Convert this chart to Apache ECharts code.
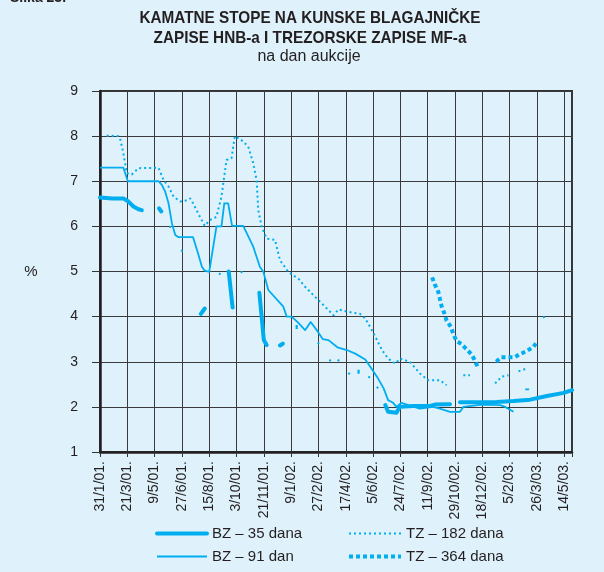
<!DOCTYPE html>
<html>
<head>
<meta charset="utf-8">
<script src="https://cdn.jsdelivr.net/npm/echarts@6/dist/echarts.min.js"></script>
<style>
html,body{margin:0;padding:0;background:#dff1fb;}
#c{width:604px;height:572px;}
</style>
</head>
<body>
<div id="c"></div>
<script>
// ---- data ----
const xTickLabels = ['31/1/01.','21/3/01.','9/5/01.','27/6/01.','15/8/01.','3/10/01.','21/11/01.','9/1/02.','27/2/02.','17/4/02.','5/6/02.','24/7/02.','11/9/02.','29/10/02.','18/12/02.','5/2/03.','26/3/03.','14/5/03.'];
const yTicks = [1,2,3,4,5,6,7,8,9];
const seriesNames = ['BZ – 35 dana','BZ – 91 dan','TZ – 182 dana','TZ – 364 dana'];

// null = gap in the line
const bz35 = [
  ['2001-01-31',6.64],['2001-02-22',6.62],['2001-03-14',6.62],['2001-03-23',6.55],['2001-04-01',6.44],['2001-04-10',6.38],['2001-04-16',6.36],
  null,
  ['2001-05-17',6.40],['2001-05-21',6.33],
  null,
  ['2001-07-31',4.06],['2001-08-07',4.18],
  null,
  ['2001-09-19',5.00],['2001-09-26',4.20],
  null,
  ['2001-11-13',4.53],['2001-11-21',3.48],['2001-11-26',3.37],
  null,
  ['2001-12-20',3.36],['2001-12-25',3.40],
  null,
  ['2002-06-27',2.04],['2002-07-02',1.89],['2002-07-17',1.87],['2002-07-23',2.00],['2002-08-16',2.02],['2002-09-15',2.02],['2002-09-24',2.05],['2002-10-21',2.06],
  null,
  ['2002-11-08',2.10],['2002-12-14',2.10],['2003-01-13',2.11],['2003-02-12',2.13],['2003-03-14',2.16],['2003-04-13',2.24],['2003-05-13',2.31],['2003-05-28',2.37]
];

const bz91 = [
  ['2001-01-31',7.30],['2001-03-14',7.30],['2001-03-22',7.00],['2001-05-16',7.00],['2001-05-22',6.92],['2001-05-28',6.77],['2001-06-03',6.51],
  ['2001-06-09',6.07],['2001-06-15',5.81],['2001-06-21',5.76],['2001-07-17',5.76],['2001-07-26',5.40],['2001-08-02',5.10],['2001-08-07',5.02],
  ['2001-08-15',4.99],['2001-08-28',6.00],['2001-09-06',6.00],['2001-09-11',6.51],['2001-09-18',6.51],['2001-09-25',6.01],['2001-10-15',6.01],
  ['2001-11-02',5.55],['2001-11-14',5.10],['2001-11-20',5.00],['2001-11-29',4.59],['2001-12-26',4.22],['2002-01-01',4.00],['2002-01-10',4.00],
  ['2002-01-22',3.86],['2002-02-03',3.70],['2002-02-13',3.88],['2002-02-24',3.70],['2002-03-07',3.50],['2002-03-17',3.48],['2002-04-02',3.32],
  ['2002-04-19',3.26],['2002-05-04',3.18],['2002-05-22',3.05],['2002-05-31',2.89],['2002-06-12',2.67],['2002-06-24',2.41],['2002-07-02',2.15],
  ['2002-07-11',2.09],['2002-07-17',2.00],['2002-07-26',2.09],['2002-08-07',2.04],['2002-08-28',1.96],['2002-09-21',2.00],['2002-10-03',1.96],
  ['2002-10-21',1.89],['2002-11-08',1.89],['2002-11-14',2.00],['2002-12-17',2.05],['2003-01-19',2.04],['2003-01-28',2.00],['2003-02-12',1.89],
  null,
  ['2003-03-05',2.39],['2003-03-12',2.39]
];

const tz182 = [
  ['2001-02-12',8.01],['2001-03-05',8.00],['2001-03-08',7.95],['2001-03-14',7.62],['2001-03-20',7.18],['2001-03-29',7.15],['2001-04-10',7.29],
  ['2001-05-16',7.30],['2001-05-25',7.03],['2001-06-03',6.88],['2001-06-12',6.66],['2001-06-24',6.55],['2001-07-03',6.57],['2001-07-12',6.62],
  ['2001-07-17',6.51],['2001-07-26',6.29],['2001-08-07',6.01],['2001-08-16',6.14],['2001-08-28',6.21],['2001-09-06',6.66],['2001-09-15',7.47],
  ['2001-09-24',7.51],['2001-09-30',8.00],['2001-10-12',7.91],['2001-10-24',7.77],['2001-11-02',7.40],['2001-11-08',7.03],['2001-11-11',6.36],
  ['2001-11-17',6.00],['2001-11-26',5.73],['2001-12-11',5.70],['2001-12-20',5.25],['2002-01-04',4.99],['2002-01-25',4.81],['2002-01-31',4.70],
  ['2002-02-24',4.40],['2002-03-11',4.22],['2002-03-26',4.03],['2002-04-04',4.16],['2002-04-19',4.11],['2002-05-13',4.06],['2002-05-22',3.96],
  ['2002-06-06',3.63],['2002-06-21',3.26],['2002-07-02',3.07],['2002-07-15',2.96],['2002-07-23',3.07],['2002-08-10',3.00],['2002-08-28',2.74],
  ['2002-09-12',2.59],['2002-10-03',2.59],['2002-10-15',2.48],
  null,
  ['2002-11-14',2.70],['2002-11-26',2.70],
  null,
  ['2003-01-10',2.52],['2003-01-22',2.67],['2003-02-03',2.70],
  null,
  ['2003-02-21',2.79],['2003-03-08',2.85],
  null,
  ['2003-04-06',3.98],['2003-04-12',4.02],
  null,
  ['2001-06-05',5.97],['2001-06-08',6.03],
  null,
  ['2001-06-26',5.44],['2001-06-29',5.50],
  null,
  ['2001-09-02',4.93],['2001-09-05',4.99],
  null,
  ['2001-10-11',4.97],['2001-10-14',5.03],
  null,
  ['2002-02-26',3.39],['2002-03-01',3.45],
  null,
  ['2002-03-19',3.01],['2002-03-22',3.07],
  null,
  ['2002-04-03',3.01],['2002-04-06',3.07],
  null,
  ['2002-04-22',2.72],['2002-04-25',2.78],
  null,
  ['2002-05-28',2.64],['2002-05-31',2.70],
  null,
  ['2002-06-12',2.41],['2002-06-15',2.47]
];

const tz364 = [
  ['2002-09-19',4.87],['2002-09-24',4.71],['2002-09-30',4.55],['2002-10-06',4.23],['2002-10-11',4.07],['2002-10-15',3.91],['2002-10-23',3.77],
  ['2002-10-27',3.61],['2002-11-02',3.46],['2002-11-11',3.39],['2002-11-29',3.16],['2002-12-05',3.02],['2002-12-11',2.85],
  null,
  ['2003-01-12',3.00],['2003-01-21',3.10],['2003-02-14',3.10],['2003-02-24',3.17],['2003-03-08',3.24],['2003-03-20',3.33],['2003-03-26',3.44],
  null,
  ['2002-01-17',3.77],['2002-01-21',3.77],
  null,
  ['2002-05-08',2.78],['2002-05-12',2.78]
];

// ---- helpers ----
const START = Date.UTC(2001, 0, 31);
const STEP = 49; // days between axis labels
function dayOf(s) {
  const p = s.split('-').map(Number);
  return Math.round((Date.UTC(p[0], p[1] - 1, p[2]) - START) / 86400000);
}
function toXY(arr) {
  return arr.map(p => p ? [dayOf(p[0]), p[1]] : [null, null]);
}

const LINE = '#00aeef';
const FONT = "'Liberation Sans', Arial, sans-serif";
const hideSym = {opacity: 0};

const chart = echarts.init(document.getElementById('c'), null, {renderer: 'canvas'});
chart.setOption({
  backgroundColor: '#dff1fb',
  animation: false,
  grid: {left: 100, right: 32, top: 91, bottom: 120, show: true, borderColor: '#333', borderWidth: 2, backgroundColor: 'transparent'},
  xAxis: {
    type: 'value', min: 0, max: 847, interval: STEP,
    axisLine: {show: true, onZero: false, lineStyle: {color: '#231f20', width: 2.5}},
    axisTick: {show: true, length: 5, lineStyle: {color: '#333'}},
    splitLine: {show: true, lineStyle: {color: '#3a3a3a', width: 1}},
    axisLabel: {
      rotate: 90, margin: 9, color: '#231f20', fontSize: 14, fontFamily: FONT,
      formatter: v => { const i = Math.round(v / STEP); return (v % STEP === 0 && i < xTickLabels.length) ? xTickLabels[i] : ''; }
    }
  },
  yAxis: {
    type: 'value', min: yTicks[0], max: yTicks[yTicks.length - 1], interval: 1,
    axisLine: {show: true, lineStyle: {color: '#231f20', width: 2.5}},
    axisTick: {show: true, length: 8, lineStyle: {color: '#333'}},
    splitLine: {show: true, lineStyle: {color: '#3a3a3a', width: 1}},
    axisLabel: {margin: 22, color: '#231f20', fontSize: 14, fontFamily: FONT}
  },
  legend: [
    {
      orient: 'vertical', left: 155, top: 526, padding: 0, itemWidth: 50, itemHeight: 14, itemGap: 8,
      textStyle: {color: '#231f20', fontSize: 15, fontFamily: FONT},
      data: [
        {name: seriesNames[0], lineStyle: {width: 4}, itemStyle: hideSym},
        {name: seriesNames[1], lineStyle: {width: 2}, itemStyle: hideSym}
      ]
    },
    {
      orient: 'vertical', left: 347, top: 526, padding: 0, itemWidth: 52, itemHeight: 14, itemGap: 8,
      textStyle: {color: '#231f20', fontSize: 15, fontFamily: FONT},
      data: [
        {name: seriesNames[2], lineStyle: {width: 2}, itemStyle: hideSym},
        {name: seriesNames[3], lineStyle: {width: 4}, itemStyle: hideSym}
      ]
    }
  ],
  graphic: [
    {type: 'text', left: 10, top: -9, style: {text: 'Slika 23.', font: "bold 14px " + FONT, fill: '#231f20'}},
    {type: 'text', x: 310, y: 18, scaleX: 0.9, style: {text: 'KAMATNE STOPE NA KUNSKE BLAGAJNIČKE', textAlign: 'center', textVerticalAlign: 'middle', font: "bold 17px " + FONT, fill: '#231f20'}},
    {type: 'text', x: 310, y: 38, scaleX: 0.9, style: {text: 'ZAPISE HNB-a I TREZORSKE ZAPISE MF-a', textAlign: 'center', textVerticalAlign: 'middle', font: "bold 17px " + FONT, fill: '#231f20'}},
    {type: 'text', x: 309, y: 57, style: {text: 'na dan aukcije', textAlign: 'center', textVerticalAlign: 'middle', font: "16px " + FONT, fill: '#231f20'}},
    {type: 'text', x: 31, y: 272, style: {text: '%', textAlign: 'center', textVerticalAlign: 'middle', font: "15px " + FONT, fill: '#231f20'}}
  ],
  series: [
    {name: seriesNames[0], type: 'line', data: toXY(bz35), symbol: 'none', showSymbol: false, connectNulls: false, color: LINE, lineStyle: {color: LINE, width: 4, cap: 'round', join: 'round'}, z: 5},
    {name: seriesNames[1], type: 'line', data: toXY(bz91), symbol: 'none', showSymbol: false, connectNulls: false, color: LINE, lineStyle: {color: LINE, width: 1.8, join: 'round'}, z: 4},
    {name: seriesNames[2], type: 'line', data: toXY(tz182), symbol: 'none', showSymbol: false, connectNulls: false, color: LINE, lineStyle: {color: LINE, width: 2, type: [2, 3]}, z: 3},
    {name: seriesNames[3], type: 'line', data: toXY(tz364), symbol: 'none', showSymbol: false, connectNulls: false, color: LINE, lineStyle: {color: LINE, width: 4, type: [4, 3]}, z: 3}
  ]
});
</script>
</body>
</html>
